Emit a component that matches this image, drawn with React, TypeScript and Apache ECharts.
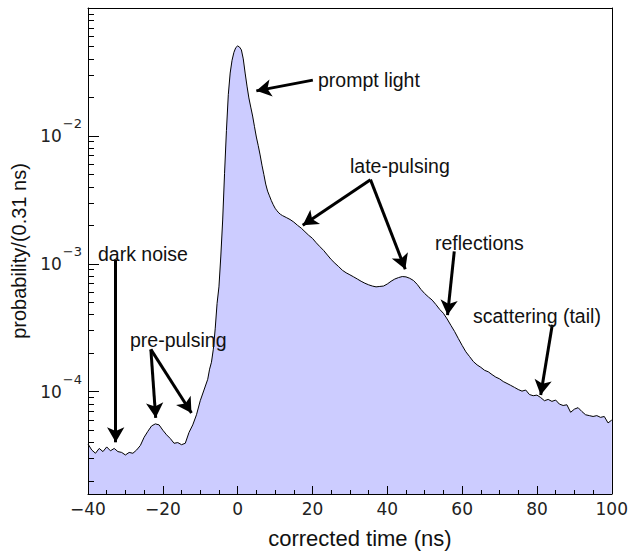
import React, { useEffect, useRef } from "react";
import * as echarts from "echarts";

// ---- data (bin centre in ns, probability per 0.31 ns) ----
const darkTimes = [
  -40, -39, -38, -37, -36, -35, -34, -33, -32, -31, -30, -29, -28, -27, -26, -25, -24,
  -23, -22, -21, -20, -19, -18, -17, -16, -15, -14, -13, -12, -11, -10, -9, -8,
];
const darkProbs = [
  3.9e-5, 3.5e-5, 3.3e-5, 3.6e-5, 3.4e-5, 3.7e-5, 3.45e-5, 3.6e-5, 3.4e-5, 3.35e-5, 3.2e-5,
  3.35e-5, 3.3e-5, 3.5e-5, 3.8e-5, 4.4e-5, 4.9e-5, 5.4e-5, 5.6e-5, 5.5e-5, 5.0e-5, 4.6e-5,
  4.3e-5, 3.95e-5, 4.0e-5, 3.85e-5, 3.95e-5, 4.8e-5, 5.5e-5, 6.6e-5, 8.5e-5, 1.03e-4, 1.25e-4,
];
const peakTimes = [
  -7.5, -7, -6.5, -6, -5.5, -5, -4.5, -4, -3.5, -3, -2.5, -2, -1.5, -1, -0.5, 0, 0.5, 1, 1.5,
  2, 2.5, 3, 3.5, 4, 4.5, 5, 5.5, 6, 6.5, 7, 7.5, 8, 8.5, 9, 9.5, 10, 10.5, 11, 11.5, 12,
];
const peakProbs = [
  1.5e-4, 1.7e-4, 2.15e-4, 3.1e-4, 4.9e-4, 6.6e-4, 1.15e-3, 2.2e-3, 5.1e-3, 1.1e-2, 2.1e-2,
  3.1e-2, 3.9e-2, 4.5e-2, 4.9e-2, 5.05e-2, 4.95e-2, 4.7e-2, 4.0e-2, 3.1e-2, 2.45e-2, 1.98e-2,
  1.68e-2, 1.43e-2, 1.18e-2, 9.8e-3, 8.4e-3, 7.1e-3, 5.9e-3, 5.0e-3, 4.2e-3, 3.7e-3, 3.4e-3,
  3.12e-3, 2.9e-3, 2.72e-3, 2.6e-3, 2.5e-3, 2.43e-3, 2.38e-3,
];
const tailTimes = [
  13, 14, 15, 16, 17, 18, 19, 20, 21, 22, 23, 24, 25, 26, 27, 28, 29, 30, 31, 32, 33, 34, 35,
  36, 37, 38, 39, 40, 41, 42, 43, 44, 45, 46, 47, 48, 49, 50, 51, 52, 53, 54, 55, 56, 57, 58,
  59, 60, 61, 62, 63, 64, 65, 66, 67, 68, 69, 70, 71, 72, 73, 74, 75, 76, 77, 78, 79, 80, 81,
  82, 83, 84, 85, 86, 87, 88, 89, 90, 91, 92, 93, 94, 95, 96, 97, 98, 99, 100,
];
const tailProbs = [
  2.3e-3, 2.22e-3, 2.12e-3, 2.0e-3, 1.9e-3, 1.78e-3, 1.67e-3, 1.58e-3, 1.46e-3, 1.36e-3,
  1.27e-3, 1.17e-3, 1.08e-3, 1.01e-3, 9.5e-4, 8.9e-4, 8.5e-4, 8.2e-4, 7.9e-4, 7.6e-4, 7.3e-4,
  7.05e-4, 6.85e-4, 6.7e-4, 6.6e-4, 6.65e-4, 6.7e-4, 6.95e-4, 7.3e-4, 7.6e-4, 7.8e-4, 7.95e-4,
  7.9e-4, 7.7e-4, 7.4e-4, 6.9e-4, 6.3e-4, 5.85e-4, 5.5e-4, 5.2e-4, 4.8e-4, 4.4e-4, 4.1e-4,
  3.7e-4, 3.3e-4, 2.95e-4, 2.6e-4, 2.3e-4, 2.05e-4, 1.88e-4, 1.72e-4, 1.62e-4, 1.55e-4,
  1.47e-4, 1.43e-4, 1.36e-4, 1.3e-4, 1.26e-4, 1.2e-4, 1.16e-4, 1.12e-4, 1.08e-4, 1.04e-4,
  1.01e-4, 1.03e-4, 9.5e-5, 9.3e-5, 9.4e-5, 9.0e-5, 8.5e-5, 8.7e-5, 8.4e-5, 8.6e-5, 8.0e-5,
  7.8e-5, 7.9e-5, 6.9e-5, 7.3e-5, 7.5e-5, 7.0e-5, 6.6e-5, 6.5e-5, 6.4e-5, 6.5e-5, 6.3e-5,
  6.4e-5, 5.7e-5, 6.0e-5,
];

// ---- axes ----
const xTickLabels = [-40, -20, 0, 20, 40, 60, 80, 100];
const yDecadeExponents = [-4, -3, -2];
const yMinorMultipliers = [2, 3, 4, 5, 6, 7, 8, 9];
const yLogMin = -4.8;
const yLogMax = -1.0;

// ---- annotations ----
const labelTexts = ["prompt light", "late-pulsing", "reflections", "scattering (tail)", "dark noise", "pre-pulsing"];
const labelPositions = [
  [318, 80],
  [350, 166],
  [435, 243],
  [473, 316],
  [98, 254],
  [130, 340],
];
const arrowFrom = [
  [20.1, 2.73e-2],
  [35.5, 4.55e-3],
  [35.5, 4.55e-3],
  [57.9, 1.25e-3],
  [84.1, 3.33e-4],
  [-32.6, 1.08e-3],
  [-23.2, 2.14e-4],
  [-23.2, 2.14e-4],
];
const arrowTo = [
  [5.0, 2.25e-2],
  [17.4, 2.0e-3],
  [44.8, 9.06e-4],
  [56.1, 3.97e-4],
  [81.0, 9.44e-5],
  [-32.6, 4.02e-5],
  [-21.9, 6.25e-5],
  [-12.35, 6.82e-5],
];

const tickFont = "DejaVu Sans";
const textFont = "Liberation Sans";

export default function App() {
  const ref = useRef<HTMLDivElement>(null);

  useEffect(() => {
    if (!ref.current) return;
    const chart = echarts.init(ref.current, undefined, { renderer: "svg" });

    const times = [...darkTimes, ...peakTimes, ...tailTimes];
    const probs = [...darkProbs, ...peakProbs, ...tailProbs];
    const seriesData = times.map((t, i) => [t, Math.log10(probs[i])]);

    const minorValues: number[] = [];
    [-5, ...yDecadeExponents].forEach((e) => {
      yMinorMultipliers.forEach((m) => {
        const v = e + Math.log10(m);
        if (v > yLogMin && v < yLogMax) minorValues.push(v);
      });
    });

    const markData = arrowFrom.map((f, i) => [
      { coord: [f[0], Math.log10(f[1])] },
      { coord: [arrowTo[i][0], Math.log10(arrowTo[i][1])] },
    ]);

    chart.setOption({
      animation: false,
      grid: { left: 88, top: 8, width: 525, height: 496.5, containLabel: false, show: false },
      xAxis: [
        {
          type: "value",
          min: xTickLabels[0],
          max: xTickLabels[xTickLabels.length - 1],
          interval: 20,
          z: 10,
          axisLine: { show: true, onZero: false, lineStyle: { color: "#000", width: 1 } },
          axisTick: { show: true, inside: true, length: 8, lineStyle: { color: "#000" } },
          minorTick: { show: true, splitNumber: 4, length: 4, lineStyle: { color: "#000" } },
          splitLine: { show: false },
          axisLabel: {
            margin: 6,
            fontFamily: tickFont,
            fontSize: 17,
            color: "#222",
            formatter: (v: number) => String(v).replace("-", "\u2212"),
          },
          name: "corrected time (ns)",
          nameLocation: "middle",
          nameGap: 33,
          nameTextStyle: { fontFamily: textFont, fontSize: 22, color: "#111", padding: [0, 0, 0, 20] },
        },
        {
          type: "value",
          position: "top",
          min: xTickLabels[0],
          max: xTickLabels[xTickLabels.length - 1],
          z: 10,
          axisLine: { show: true, onZero: false, lineStyle: { color: "#000", width: 1 } },
          axisTick: { show: false },
          axisLabel: { show: false },
          splitLine: { show: false },
        },
      ],
      yAxis: [
        {
          type: "value",
          min: yLogMin,
          max: yLogMax,
          position: "left",
          z: 10,
          axisLine: { show: true, onZero: false, lineStyle: { color: "#000", width: 1 } },
          axisTick: {
            show: true,
            inside: true,
            length: 11,
            customValues: yDecadeExponents,
            lineStyle: { color: "#000" },
          },
          axisLabel: {
            customValues: yDecadeExponents,
            margin: 6,
            formatter: (v: number) => `{b|10}{s|\u2212${Math.round(-v)}}`,
            rich: {
              b: { fontFamily: tickFont, fontSize: 17, color: "#222", lineHeight: 20 },
              s: { fontFamily: tickFont, fontSize: 13, color: "#222", padding: [0, 0, 24, 1] },
            },
          },
          splitLine: { show: false },
          name: "probability/(0.31 ns)",
          nameLocation: "middle",
          nameGap: 43,
          nameTextStyle: { fontFamily: textFont, fontSize: 20, color: "#111" },
        },
        {
          type: "value",
          min: yLogMin,
          max: yLogMax,
          position: "left",
          z: 10,
          axisLine: { show: false, onZero: false },
          axisTick: {
            show: true,
            inside: true,
            length: 6,
            customValues: minorValues,
            lineStyle: { color: "#000" },
          },
          axisLabel: { show: false },
          splitLine: { show: false },
        },
        {
          type: "value",
          min: yLogMin,
          max: yLogMax,
          position: "right",
          z: 10,
          axisLine: { show: true, onZero: false, lineStyle: { color: "#000", width: 1 } },
          axisTick: { show: false },
          axisLabel: { show: false },
          splitLine: { show: false },
        },
      ],
      series: [
        {
          type: "line",
          xAxisIndex: 0,
          yAxisIndex: 0,
          data: seriesData,
          symbol: "none",
          clip: true,
          lineStyle: { color: "#000", width: 1 },
          areaStyle: { color: "#ccccff", opacity: 1, origin: "start" },
          emphasis: { disabled: true },
          markLine: {
            silent: true,
            symbol: ["none", "arrow"],
            symbolSize: [13, 15],
            lineStyle: { color: "#000", width: 3, type: "solid" },
            label: { show: false },
            emphasis: { disabled: true },
            data: markData,
          },
        },
      ],
      graphic: labelTexts.map((text, i) => ({
        type: "text",
        x: labelPositions[i][0],
        y: labelPositions[i][1],
        z: 20,
        style: {
          text,
          fontFamily: textFont,
          fontSize: 19.5,
          fill: "#111",
          align: "left",
          verticalAlign: "middle",
        },
      })),
    });

    return () => chart.dispose();
  }, []);

  return (
    <div
      ref={ref}
      style={{ position: "absolute", left: 0, top: 0, width: 631, height: 554, background: "#fff" }}
    />
  );
}
